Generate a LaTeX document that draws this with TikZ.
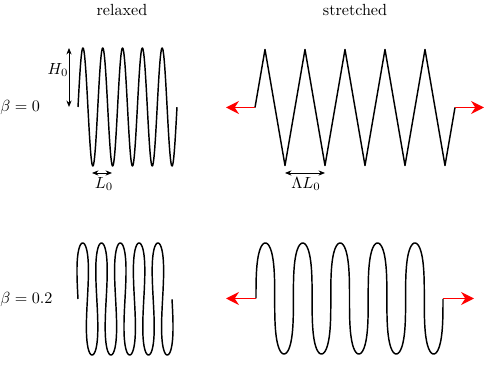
\documentclass[tikz,border=0pt]{standalone}
\usetikzlibrary{arrows.meta}

\begin{document}
\begin{tikzpicture}[
    x=0.62pt, y=-0.62pt,
    spring/.style={line width=0.9pt, line join=round},
    dim/.style={{Stealth[length=4pt,width=3.2pt]}-{Stealth[length=4pt,width=3.2pt]}, line width=0.5pt},
    pull/.style={-{Stealth[length=8pt,width=8pt]}, red, line width=1pt},
  ]
  \useasboundingbox (0,0) rectangle (491,377);

  % column and row labels
  \node (relaxed) at (122,10) {relaxed};
  \node (stretched) at (355,10) {stretched};
  \node[anchor=west, inner sep=0pt] (b0) at (0,107) {$\beta=0$};
  \node[anchor=west, inner sep=0pt] (b02) at (0,299) {$\beta=0.2$};

  % beta = 0
  \draw[spring] plot[domain=0:10*pi, samples=300, variable=\t]
    ({78+3.151*\t}, {107-59*sin(\t r)});
  \draw[spring] plot[domain=0:10*pi, samples=21, variable=\t]
    ({255+6.366*\t}, {107.5-58*sin(\t r)});

  % beta = 0.2
  \draw[spring] plot[domain=0:10*pi, samples=500, variable=\t]
    ({78+2.992*(\t-1.0*sin(2*\t r))}, {299-56*sin(\t r)});
  \draw[spring] plot[domain=0:10*pi, samples=500, variable=\t]
    ({256+5.952*(\t-0.5*sin(2*\t r))}, {298.5-55.5*sin(\t r)});

  % dimensions
  \coordinate (h0top) at (69,48);
  \coordinate (h0bot) at (69,107);
  \draw[dim] (h0top) -- (h0bot);
  \node (H0) at (58,70) {$H_0$};

  \coordinate (l0a) at (92,173);
  \coordinate (l0b) at (112,173);
  \draw[dim] (l0a) -- (l0b);
  \node (L0) at (104,184) {$L_0$};

  \coordinate (ll0a) at (285,173);
  \coordinate (ll0b) at (325,173);
  \draw[dim] (ll0a) -- (ll0b);
  \node (LL0) at (306,184) {$\Lambda L_0$};

  % pulling forces
  \coordinate (s0a) at (255,107.5);
  \coordinate (s0l) at (226,107.5);
  \coordinate (s0b) at (455,107.5);
  \coordinate (s0r) at (484,107.5);
  \draw[pull] (s0a) -- (s0l);
  \draw[pull] (s0b) -- (s0r);

  \coordinate (s2a) at (256,298.5);
  \coordinate (s2l) at (226,298.5);
  \coordinate (s2b) at (443,298.5);
  \coordinate (s2r) at (474,298.5);
  \draw[pull] (s2a) -- (s2l);
  \draw[pull] (s2b) -- (s2r);
\end{tikzpicture}
\end{document}
